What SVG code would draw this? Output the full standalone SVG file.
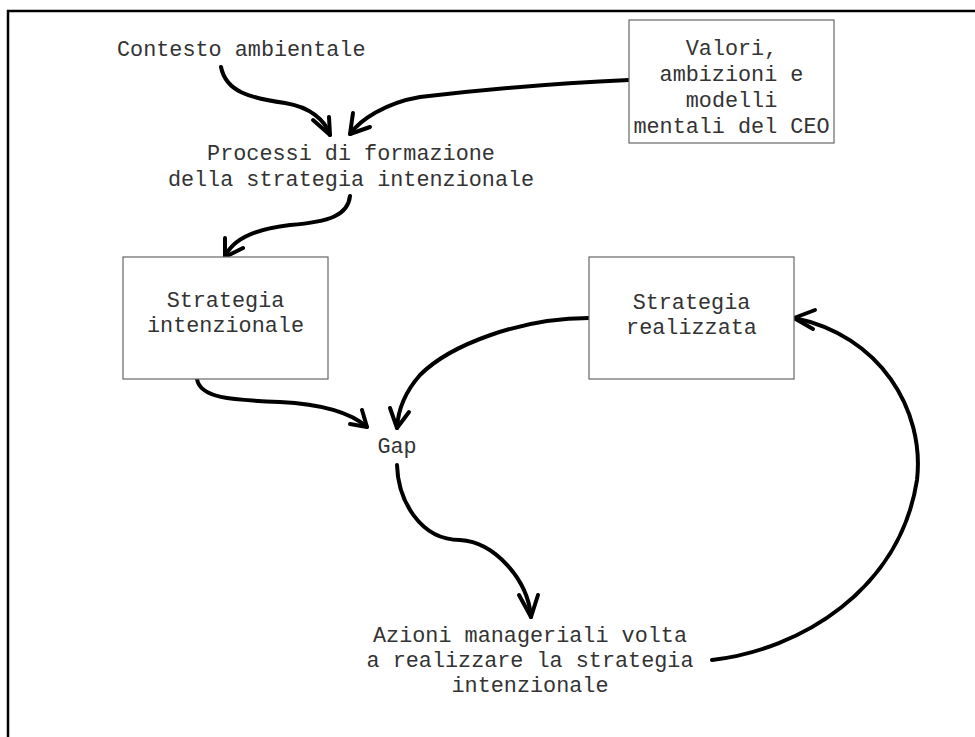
<svg xmlns="http://www.w3.org/2000/svg" width="975" height="737" viewBox="0 0 975 737">
<style>
  .frame{fill:none;stroke:#000;stroke-width:2.5}
  .box{fill:#fff;stroke:#666;stroke-width:1.2}
  .t{font-family:"Liberation Mono","Courier New",monospace;font-size:21.8px;fill:#333;text-anchor:middle}
  .c{fill:none;stroke:#000;stroke-width:4;stroke-linecap:round;stroke-linejoin:round}
</style>
<rect width="975" height="737" fill="#fff"/>
<rect class="frame" x="8" y="11" width="1100" height="1000"/>
<g id="connectors">
  <path class="c" d="M221,67 C226,92 250,98 285,103 C310,107 325,120 330,135"/>
  <path class="c" d="M313,120 L330,135 L329,117"/>
  <path class="c" d="M629,80 C560,83 480,90 420,97 C385,103 360,120 350,134"/>
  <path class="c" d="M353,113 L350,134 L370,127"/>
  <path class="c" d="M350,196 C348,215 330,222 290,225 C255,229 232,240 225,257"/>
  <path class="c" d="M225,238 L225,257 L243,248"/>
  <path class="c" d="M197,379 C200,398 230,400 280,402 C320,404 350,412 367,427"/>
  <path class="c" d="M350,424 L367,427 L362,410"/>
  <path class="c" d="M589,318 C520,318 450,345 420,375 C405,392 398,410 397,428"/>
  <path class="c" d="M390,408 L397,428 L409,412"/>
  <path class="c" d="M397,465 C398,500 420,540 460,540 C495,542 528,580 531,617"/>
  <path class="c" d="M519,595 L531,617 L538,595"/>
  <path class="c" d="M712,660 C800,650 900,590 917,480 C925,410 880,335 794,318"/>
  <path class="c" d="M815,310 L794,318 L813,329"/>
</g>
<g id="contesto">
  <text class="t" x="117" y="56" style="text-anchor:start">Contesto ambientale</text>
</g>
<g id="valori">
  <rect class="box" x="629" y="20" width="205" height="123"/>
  <text class="t" x="731.5" y="55">Valori,</text>
  <text class="t" x="731.5" y="81">ambizioni e</text>
  <text class="t" x="731.5" y="107">modelli</text>
  <text class="t" x="731.5" y="133">mentali del CEO</text>
</g>
<g id="processi">
  <text class="t" x="351" y="160">Processi di formazione</text>
  <text class="t" x="351" y="186">della strategia intenzionale</text>
</g>
<g id="strategia-intenzionale">
  <rect class="box" x="123" y="257" width="205" height="122"/>
  <text class="t" x="225.5" y="307">Strategia</text>
  <text class="t" x="225.5" y="332">intenzionale</text>
</g>
<g id="strategia-realizzata">
  <rect class="box" x="589" y="257" width="205" height="122"/>
  <text class="t" x="691.5" y="309">Strategia</text>
  <text class="t" x="691.5" y="334">realizzata</text>
</g>
<g id="gap">
  <text class="t" x="397" y="453">Gap</text>
</g>
<g id="azioni">
  <text class="t" x="530" y="642">Azioni manageriali volta</text>
  <text class="t" x="530" y="667">a realizzare la strategia</text>
  <text class="t" x="530" y="692">intenzionale</text>
</g>
</svg>
